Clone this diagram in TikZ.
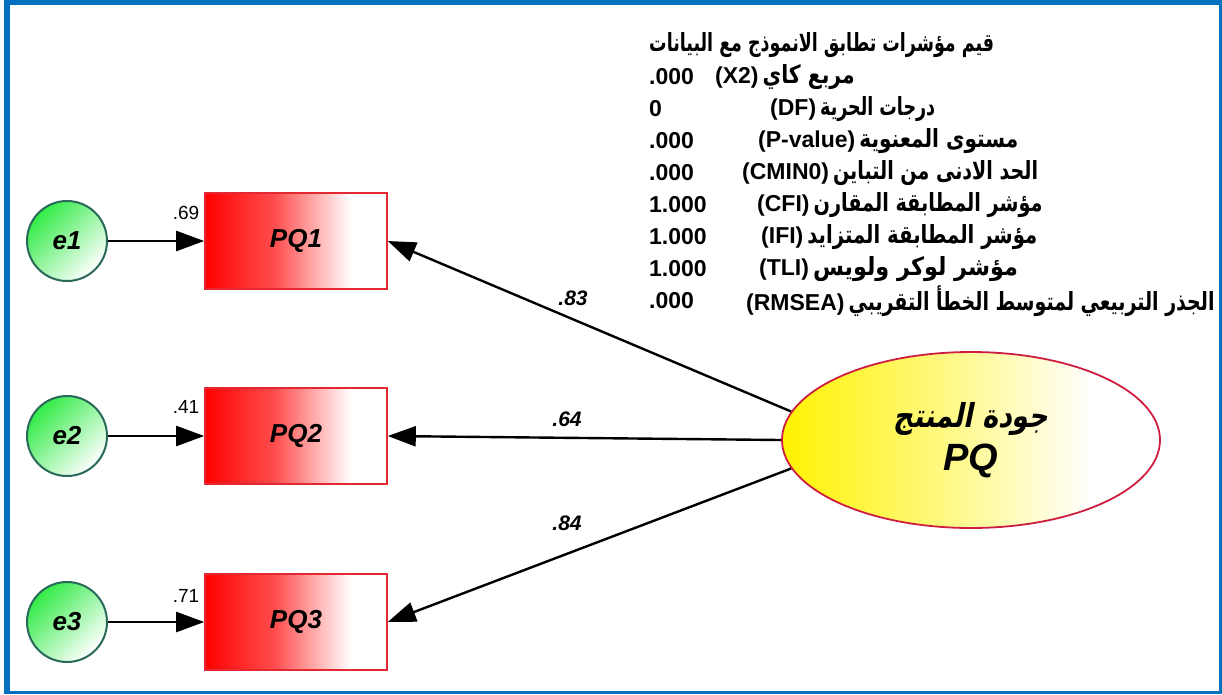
\documentclass[tikz,border=0pt]{standalone}
\usepackage{fontspec}
\usepackage{graphicx}
\setmainfont{Liberation Sans}
\newfontfamily\arabicfont[Script=Arabic]{DejaVu Sans}
\newfontfamily\arabicslant[Script=Arabic,FakeSlant=0.25]{DejaVu Sans}
\TeXXeTstate=1
\usetikzlibrary{arrows.meta,shapes.geometric}

\definecolor{frameblue}{RGB}{0,112,192}
\definecolor{circborder}{RGB}{40,105,90}
\definecolor{circgreen}{RGB}{50,235,70}
\definecolor{boxred}{RGB}{228,40,50}
\definecolor{ellborder}{RGB}{205,30,65}
\definecolor{ellyellow}{RGB}{255,242,0}

\pgfdeclarehorizontalshading{redfade}{100bp}{color(0bp)=(red); color(25bp)=(red); color(44bp)=(red!70!white); color(65bp)=(white); color(100bp)=(white)}
\pgfdeclarehorizontalshading{yellowfade}{100bp}{color(0bp)=(ellyellow); color(25bp)=(ellyellow); color(48bp)=(ellyellow!45!white); color(66bp)=(white); color(100bp)=(white)}

\newcommand{\arw}[2]{\resizebox{#1pt}{\height}{\fontsize{25}{28}\selectfont\arabicfont\bfseries #2}}
\newcommand{\arsl}[2]{\resizebox{#1pt}{\height}{\arabicslant\bfseries #2}}

\tikzset{
  ecirc/.style={circle, draw=circborder, line width=2pt, minimum size=80pt, inner sep=0pt,
    top color=circgreen, bottom color=white, shading angle=45,
    font=\fontsize{26}{30}\selectfont\bfseries\itshape},
  obsbox/.style={rectangle, draw=boxred, line width=1.6pt, minimum width=182pt, minimum height=96pt,
    inner sep=0pt, shading=redfade, font=\fontsize{26}{30}\selectfont\bfseries\itshape},
  latent/.style={ellipse, draw=ellborder, line width=1.8pt, minimum width=378pt, minimum height=176pt,
    inner sep=0pt, shading=yellowfade, align=center},
  arr/.style={line width=2.4pt, -{Triangle[length=28pt,width=20pt]}},
  coef/.style={inner sep=0pt, font=\fontsize{21}{24}\selectfont\bfseries\itshape},
  varl/.style={inner sep=0pt, font=\fontsize{19}{22}\selectfont},
  num/.style={anchor=west, inner sep=0pt, font=\fontsize{23}{26}\selectfont\bfseries},
  lab/.style={anchor=west, inner sep=0pt, font=\fontsize{23}{26}\selectfont\bfseries},
}

\begin{document}
\begin{tikzpicture}[x=1pt,y=-1pt]
\useasboundingbox (0,0) rectangle (1222,694);
% frame
\fill[frameblue] (4,0) rectangle (1222,5);
\fill[frameblue] (4,0) rectangle (10,694);
\fill[frameblue] (1219,0) rectangle (1222,694);
\fill[frameblue] (4,691) rectangle (1222,694);

% error terms
\node[ecirc] (e1) at (67,241) {e1};
\node[ecirc] (e2) at (67,436) {e2};
\node[ecirc] (e3) at (67,622) {e3};

% observed
\node[obsbox] (PQ1) at (296,241) {PQ1};
\node[obsbox] (PQ2) at (296,436) {PQ2};
\node[obsbox] (PQ3) at (296,622) {PQ3};

% latent
\node[latent] (PQ) at (971,440) {{\fontsize{33}{34}\selectfont\arsl{155}{\beginR جودة المنتج\endR}}\\[8pt]{\fontsize{38}{40}\selectfont\bfseries\itshape PQ}};

% arrows
\draw[arr] (e1) -- (PQ1);
\draw[arr] (e2) -- (PQ2);
\draw[arr] (e3) -- (PQ3);
\draw[arr] (PQ.171) -- (PQ1.east);
\draw[arr] (PQ.180) -- (PQ2.east);
\draw[arr] (PQ.189) -- (PQ3.east);

% labels
\node[coef] (c1) at (573,298) {.83};
\node[coef] (c2) at (567,419) {.64};
\node[coef] (c3) at (567,523) {.84};
\node[varl] (v1) at (186,213) {.69};
\node[varl] (v2) at (186,407) {.41};
\node[varl] (v3) at (186,596) {.71};

% fit indices
\node[lab] (t0) at (649,45) {\arw{345}{\beginR قيم مؤشرات تطابق الانموذج مع البيانات\endR}};
\node[num] (n1) at (649,77) {.000};
\node[lab] (l1) at (715,77) {(X2)\hspace{4pt}\arw{92}{\beginR مربع كاي\endR}};
\node[num] (n2) at (649,109) {0};
\node[lab] (l2) at (770,109) {(DF)\hspace{4pt}\arw{115}{\beginR درجات الحرية\endR}};
\node[num] (n3) at (649,141) {.000};
\node[lab] (l3) at (758,141) {(P-value)\hspace{4pt}\arw{159}{\beginR مستوى المعنوية\endR}};
\node[num] (n4) at (649,173) {.000};
\node[lab] (l4) at (742,173) {(CMIN0)\hspace{4pt}\arw{205}{\beginR الحد الادنى من التباين\endR}};
\node[num] (n5) at (649,205) {1.000};
\node[lab] (l5) at (757,205) {(CFI)\hspace{4pt}\arw{229}{\beginR مؤشر المطابقة المقارن\endR}};
\node[num] (n6) at (649,237) {1.000};
\node[lab] (l6) at (761,237) {(IFI)\hspace{4pt}\arw{230}{\beginR مؤشر المطابقة المتزايد\endR}};
\node[num] (n7) at (649,269) {1.000};
\node[lab] (l7) at (759,269) {(TLI)\hspace{4pt}\arw{205}{\beginR مؤشر لوكر ولويس\endR}};
\node[num] (n8) at (649,301) {.000};
\node[lab] (l8) at (746,301) {(RMSEA)\hspace{4pt}\arw{366}{\beginR الجذر التربيعي لمتوسط الخطأ التقريبي\endR}};
\end{tikzpicture}
\end{document}
